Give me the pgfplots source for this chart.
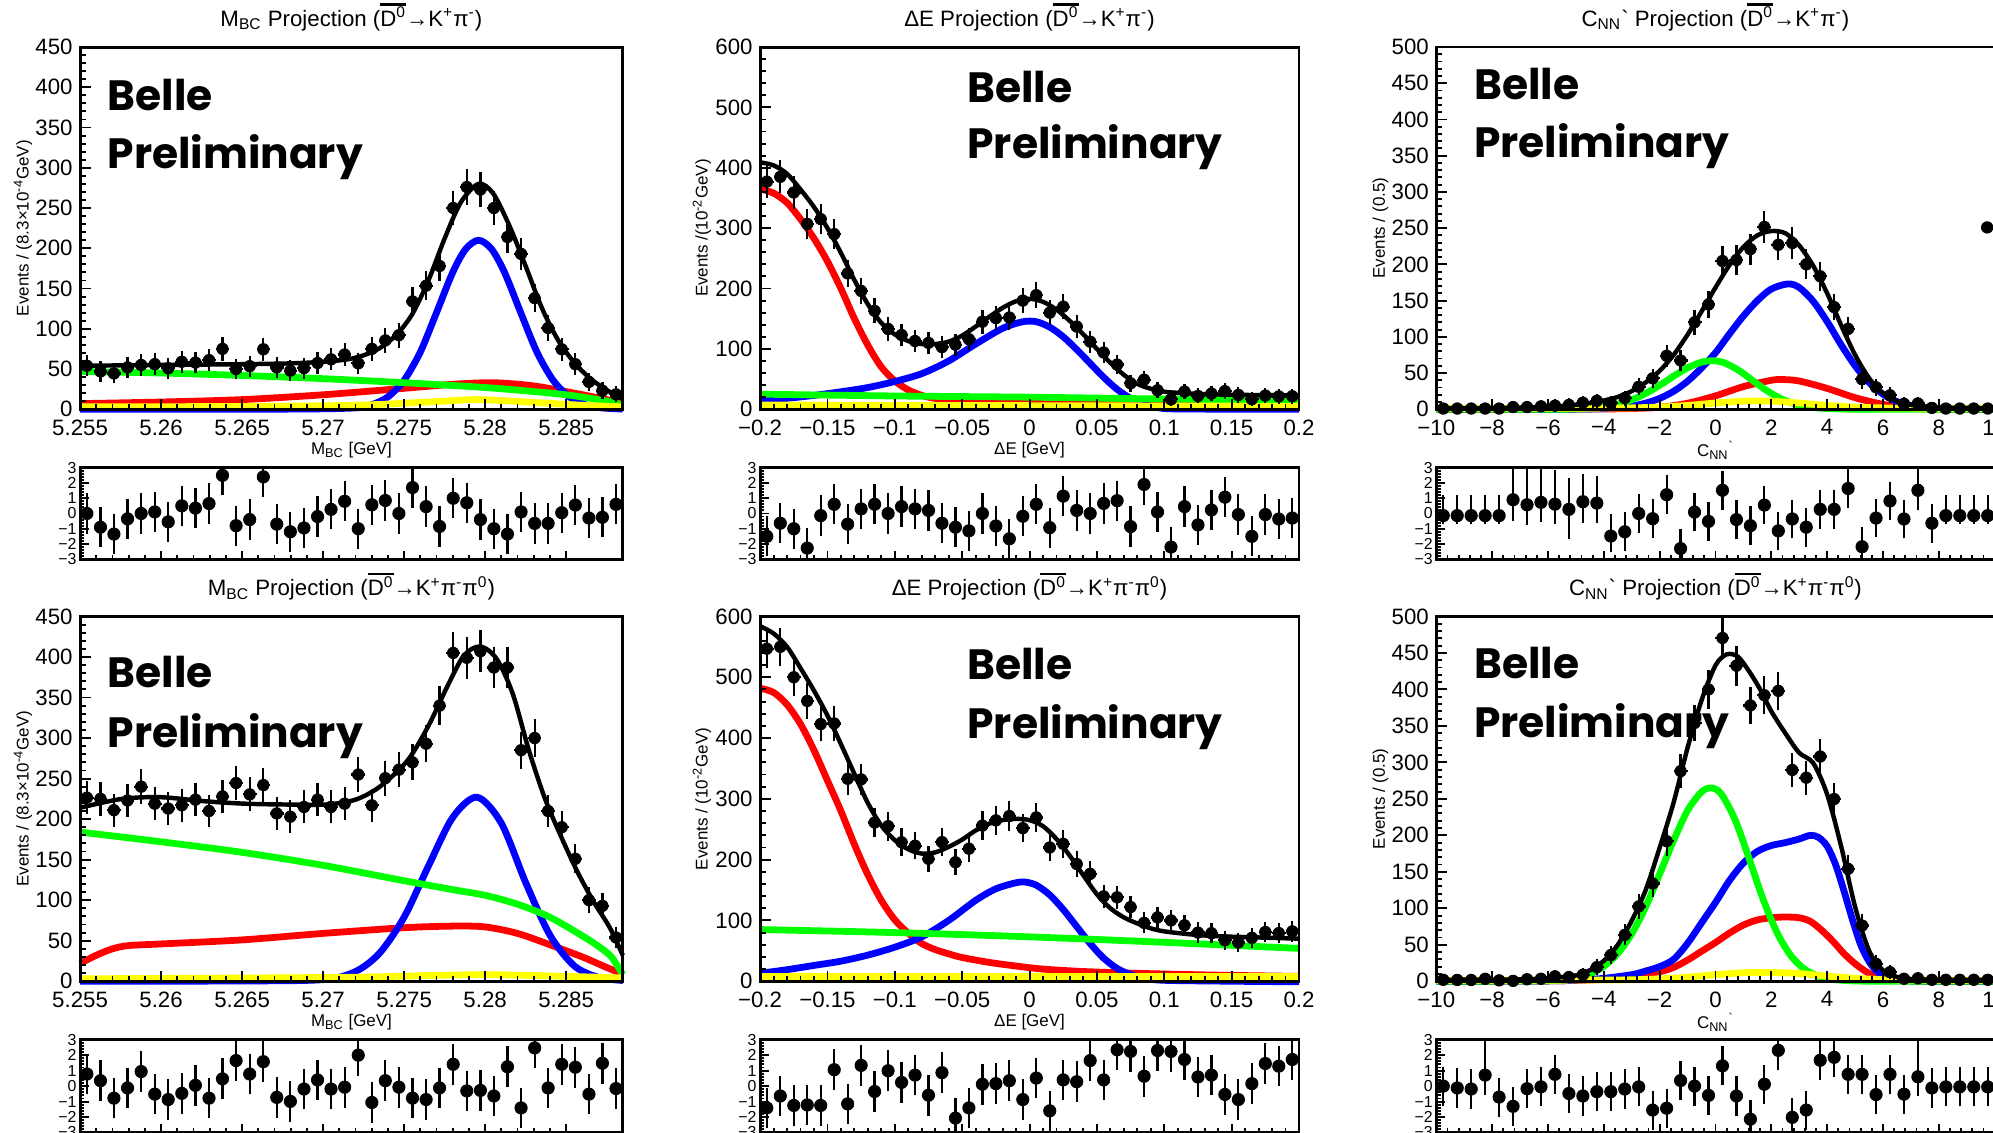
\documentclass[border=0pt]{standalone}
\usepackage{fontspec}
\setmainfont{Liberation Sans}
\newfontfamily\bellefont{Poppins}
\usepackage{pgfplots}
\pgfplotsset{compat=1.18}
\usepackage{pgfplotstable}
\definecolor{rblue}{RGB}{0,0,255}
\definecolor{rred}{RGB}{255,0,0}
\definecolor{rgreen}{RGB}{0,255,0}
\definecolor{ryellow}{RGB}{255,255,0}
\newcommand\Dbar{\leavevmode\vbox{\hrule height 1.2pt\kern0.6pt\hbox{D\textsuperscript{0}}}}
\tikzset{belle/.style={anchor=base west, inner sep=0pt, font=\bellefont\bfseries\fontsize{20}{20}\selectfont}}
\pgfplotsset{
  rootbase/.style={scale only axis, anchor=south west, axis on top,
    tick pos=left, tick align=inside,
    axis line style={line width=1.4pt},
    every tick/.style={black, line width=0.9pt},
    major tick length=5pt, minor tick length=2.6pt, minor tick num=4,
    /pgf/number format/assume math mode=true},
  mainax/.style={rootbase, clip=false,
    tick label style={font=\fontsize{10.5}{12}\selectfont},
    xticklabel style={yshift=-1.3pt},
    title style={font=\fontsize{10.5}{12}\selectfont, at={(0.5,1)}, anchor=base, yshift=3.8pt},
    xlabel style={font=\fontsize{8}{9}\selectfont, at={(axis description cs:0.5,0)}, anchor=center, yshift=-19.5pt},
    ylabel style={font=\fontsize{8}{9}\selectfont, anchor=center}},
  pullax/.style={rootbase, ymin=-3, ymax=3, ytick={-3,-2,-1,0,1,2,3},
    yticklabels={−3,−2,−1,0,1,2,3}, xticklabels={},
    yticklabel style={font=\fontsize{7.5}{7.5}\selectfont, inner sep=1.5pt},
    major tick length=4pt, minor tick length=2pt},
  fitk/.style={black, line width=2.1pt, smooth, no marks},
  compc/.style={line width=3.2pt, smooth, no marks},
  datap/.style={black, only marks, mark=*, mark size=2.7pt, error bars/.cd, y dir=both, y explicit, error bar style={line width=1.05pt}, error mark options={line width=1.05pt, mark size=2.2pt}},
  xerr/.style={black, only marks, mark=none, forget plot, error bars/.cd, x dir=both, x fixed=#1, error mark=none, error bar style={line width=1.05pt}},
  pullp/.style={black, only marks, mark=*, mark size=2.9pt, error bars/.cd, y dir=both, y fixed=1, error bar style={line width=1.05pt}, error mark options={line width=1.05pt, mark size=2.3pt}},
  pullpe/.style={black, only marks, mark=*, mark size=2.9pt, error bars/.cd, y dir=both, y explicit, error bar style={line width=1.05pt}, error mark options={line width=1.05pt, mark size=2.3pt}},
  mbcx/.style={xmin=5.255, xmax=5.2885, xtick={5.255,5.26,5.265,5.27,5.275,5.28,5.285}},
  dex/.style={xmin=-0.2, xmax=0.2, xtick={-0.2,-0.15,-0.1,-0.05,0,0.05,0.1,0.15,0.2}},
  cnnx/.style={xmin=-10, xmax=10, xtick={-10,-8,-6,-4,-2,0,2,4,6,8,10}},
}
\pgfplotstableread{
x y p
5.25542 54 0.0
5.25626 47 -0.9
5.25709 44.5 -1.35
5.25793 52 -0.35
5.25877 55 0
5.25961 56 0.1
5.26044 51 -0.55
5.26128 59 0.5
5.26212 58 0.35
5.26296 61 0.65
5.26379 75 2.5
5.26463 50 -0.8
5.26547 53.5 -0.4
5.26631 74.5 2.4
5.26714 52 -0.7
5.26798 48 -1.2
5.26882 51 -0.95
5.26966 57.5 -0.2
5.27049 62 0.27
5.27133 68 0.8
5.27217 57 -1.0
5.27301 75 0.57
5.27384 85.5 0.85
5.27468 92 0.0
5.27552 134 1.7
5.27636 153.5 0.45
5.27719 178 -0.85
5.27803 250 1.0
5.27887 276 0.7
5.27971 273 -0.4
5.28054 250 -1.0
5.28138 214 -1.35
5.28222 193 0.1
5.28306 138 -0.65
5.28389 101 -0.65
5.28473 74.5 0.05
5.28557 56 0.55
5.28641 34 -0.3
5.28724 23 -0.25
5.28808 18.5 0.6
}\dA
\pgfplotstableread{
x y p
-0.195 377 -1.5
-0.185 385 -0.64
-0.175 359 -1.0
-0.165 307 -2.27
-0.155 315 -0.14
-0.145 290 0.6
-0.135 225 -0.7
-0.125 196 0.3
-0.115 163 0.6
-0.105 133 0.0
-0.095 123 0.45
-0.085 113 0.3
-0.075 110 0.2
-0.065 103 -0.64
-0.055 107 -0.9
-0.045 116 -1.14
-0.035 145 0.0
-0.025 151 -0.82
-0.015 152 -1.66
-0.005 180 -0.18
0.005 189 0.6
0.015 160 -0.93
0.025 170 1.14
0.035 137 0.2
0.045 112 0.0
0.055 94 0.66
0.065 74 0.84
0.075 43 -0.86
0.085 49 1.9
0.095 31.5 0.1
0.105 16.4 -2.2
0.115 29.3 0.45
0.125 22 -0.75
0.135 26 0.23
0.145 30 1.07
0.155 23.7 -0.07
0.165 16.6 -1.5
0.175 22.7 -0.07
0.185 21.3 -0.36
0.195 21.6 -0.3
}\dB
\pgfplotstableread{
x y p ep em
-9.75 1 -0.14 1.0 0.25
-9.25 1 -0.14 1.0 0.25
-8.75 1 -0.14 1.0 0.25
-8.25 1 -0.14 1.0 0.25
-7.75 1 -0.14 1.0 0.25
-7.25 3 0.9 3 1.1
-6.75 3 0.57 3 1.0
-6.25 4 0.73 3 1.0
-5.75 5 0.61 1.95 1.0
-5.25 6 0.27 1.75 1.65
-4.75 9 0.77 1.5 1.05
-4.25 11.6 0.68 1.45 1.0
-3.75 8.9 -1.48 1.1 0.75
-3.25 15.5 -1.2 0.95 0.95
-2.75 31 0.0 0.95 0.95
-2.25 42.7 -0.34 0.95 0.95
-1.75 73.8 1.23 0.95 0.95
-1.25 67.3 -2.3 0.95 0.95
-0.75 120 0.09 0.95 0.95
-0.25 144.6 -0.52 0.95 0.95
0.25 204.6 1.52 0.95 0.95
0.75 206 -0.4 0.95 0.95
1.25 221 -0.8 0.95 0.95
1.75 251.6 0.55 0.95 0.95
2.25 227 -1.14 0.95 0.95
2.75 229.5 -0.36 0.95 0.95
3.25 200 -0.9 0.95 0.95
3.75 183.6 0.27 0.95 0.95
4.25 141 0.27 0.95 0.95
4.75 111 1.64 0.95 0.95
5.25 41.4 -2.18 0.95 0.95
5.75 30.3 -0.3 0.95 0.95
6.25 19.3 0.82 0.95 0.95
6.75 7.5 -0.36 0.95 0.95
7.25 8 1.52 2 1.0
7.75 1.9 -0.64 0.95 0.95
8.25 1 -0.14 1.0 0.25
8.75 1 -0.14 1.0 0.25
9.25 1 -0.14 1.0 0.25
9.75 1 -0.14 1.0 0.25
}\dC
\pgfplotstableread{
x y p
5.25542 226.5 0.78
5.25626 225 0.35
5.25709 211 -0.78
5.25793 223 -0.12
5.25877 240 0.94
5.25961 219 -0.52
5.26044 213 -0.87
5.26128 217 -0.47
5.26212 224 0.05
5.26296 210 -0.78
5.26379 228 0.47
5.26463 244.5 1.65
5.26547 230.5 0.78
5.26631 242 1.58
5.26714 207 -0.73
5.26798 203 -0.99
5.26882 215 -0.19
5.26966 224 0.4
5.27049 215 -0.19
5.27133 219 -0.07
5.27217 255 2.0
5.27301 217 -1.06
5.27384 250.5 0.35
5.27468 261 -0.07
5.27552 270 -0.78
5.27636 293 -0.87
5.27719 340 -0.12
5.27803 405 1.41
5.27887 399 -0.31
5.27971 407 -0.28
5.28054 387 -0.64
5.28138 387 1.25
5.28222 285 -1.41
5.28306 300 2.47
5.28389 210 -0.12
5.28473 190 1.41
5.28557 151 1.22
5.28641 100 -0.52
5.28724 93 1.48
5.28808 54 -0.16
}\dD
\pgfplotstableread{
x y p
-0.195 547 -1.41
-0.185 550 -0.64
-0.175 500 -1.25
-0.165 461 -1.22
-0.155 423 -1.25
-0.145 424 1.06
-0.135 333 -1.15
-0.125 332 1.34
-0.115 261 -0.35
-0.105 255 0.99
-0.095 228.6 0.24
-0.085 223 0.71
-0.075 201.4 -0.59
-0.065 228.8 0.87
-0.055 195.7 -2.07
-0.045 218 -1.41
-0.035 256 0.12
-0.025 264.6 0.16
-0.015 271.7 0.35
-0.005 251.8 -0.87
0.005 269.4 0.52
0.015 220 -1.6
0.025 226 0.4
0.035 192.8 0.28
0.045 176.6 1.65
0.055 139.6 0.4
0.065 138 2.35
0.075 122 2.24
0.085 96 0.64
0.095 105 2.3
0.105 100 2.24
0.115 92 1.72
0.125 80 0.59
0.135 79 0.71
0.145 67.4 -0.54
0.155 63.7 -0.87
0.165 71.3 0.16
0.175 81 1.46
0.185 79.2 1.29
0.195 82 1.72
}\dE
\pgfplotstableread{
x y p ep em
-9.75 2 0.0 0.95 0.95
-9.25 1.8 -0.12 0.95 0.95
-8.75 1.7 -0.19 0.95 0.95
-8.25 3.3 0.71 3 0.95
-7.75 1.2 -0.71 0.95 0.95
-7.25 0.5 -1.31 0.95 0.95
-6.75 2.7 -0.17 0.95 0.95
-6.25 3.4 -0.05 0.95 0.95
-5.75 6.7 0.76 0.95 0.95
-5.25 5.7 -0.48 0.95 0.95
-4.75 8.9 -0.64 0.95 0.95
-4.25 19.3 -0.36 0.95 0.95
-3.75 35.8 -0.36 0.95 0.95
-3.25 63.5 -0.19 0.95 0.95
-2.75 102.5 -0.05 0.95 0.95
-2.25 134 -1.55 0.95 0.95
-1.75 192 -1.43 0.95 0.95
-1.25 288 0.36 0.95 0.95
-0.75 354 0.0 0.95 0.95
-0.25 400 -0.6 0.95 0.95
0.25 470.5 1.31 0.95 0.95
0.75 432.5 -0.64 0.95 0.95
1.25 378 -2.14 0.95 0.95
1.75 392 0.12 0.95 0.95
2.25 398 2.31 0.95 0.95
2.75 289.6 -2.02 0.95 0.95
3.25 279 -1.55 0.95 0.95
3.75 308 1.67 0.95 0.95
4.25 249.7 1.86 0.95 0.95
4.75 154 0.76 0.95 0.95
5.25 76.4 0.76 0.95 0.95
5.75 24 -0.55 0.95 0.95
6.25 12.4 0.76 0.95 0.95
6.75 3.4 -0.52 0.95 0.95
7.25 4 0.6 3 0.95
7.75 2 -0.12 0.95 0.95
8.25 2 -0.05 0.95 0.95
8.75 2 -0.05 0.95 0.95
9.25 2 -0.05 0.95 0.95
9.75 2 -0.05 0.95 0.95
}\dF
\begin{document}
\begin{tikzpicture}
\useasboundingbox (0,0) rectangle (940.8pt,534.6pt);
\clip (0,0) rectangle (940.8pt,534.6pt);
% ===== Panel A =====
\begin{axis}[mainax, mbcx, at={(37.8pt,341.4pt)}, width=256.2pt, height=171pt,
  xticklabels={5.255,5.26,5.265,5.27,5.275,5.28,5.285},
  ymin=0, ymax=450, ytick={0,50,...,450},
  title={M\textsubscript{BC} Projection (\Dbar→K\textsuperscript{+}π\textsuperscript{-})},
  xlabel={M\textsubscript{BC} [GeV]},
  ylabel={Events / (8.3×10\textsuperscript{-4}GeV)},
  ylabel style={at={(axis description cs:-0.105,0.5)}}]
\node[belle] at (rel axis cs:0.05,0.825) {Belle};
\node[belle] at (rel axis cs:0.05,0.666) {Preliminary};
\addplot[compc, rred] coordinates {(5.255,7) (5.260,9) (5.265,12) (5.270,18) (5.275,26) (5.278,31) (5.2805,33) (5.283,29) (5.2855,20) (5.2875,12) (5.2885,7)};
\addplot[compc, rblue] coordinates {(5.255,0) (5.268,0.2) (5.2720,1.7) (5.2730,5.6) (5.2740,15.4) (5.2750,36) (5.2760,71) (5.2770,120) (5.2780,170) (5.2788,199) (5.2796,210) (5.2804,199) (5.2812,170) (5.2822,120) (5.2832,71) (5.2842,36) (5.2852,15.4) (5.2862,5.6) (5.2872,1.7) (5.2885,0.2)};
\addplot[compc, rgreen] coordinates {(5.255,47) (5.260,45) (5.265,42) (5.270,38) (5.275,33) (5.280,27) (5.283,22) (5.285,18) (5.287,12) (5.288,8) (5.2885,5)};
\addplot[compc, ryellow] coordinates {(5.255,3) (5.265,3.5) (5.272,5) (5.2765,9) (5.2795,12) (5.2825,9) (5.286,5) (5.2885,3)};
\addplot[fitk] coordinates {(5.255,54) (5.260,55) (5.265,56) (5.268,57) (5.270,59) (5.2715,62) (5.2725,67) (5.2735,76) (5.2745,92) (5.2755,118) (5.2765,160) (5.2775,212) (5.2785,257) (5.2796,280) (5.2805,268) (5.2815,228) (5.2825,178) (5.2835,126) (5.2845,86) (5.2855,58) (5.2865,38) (5.2875,24) (5.2885,13)};
\addplot[xerr=0.00042] table[x=x,y=y] {\dA};
\addplot[datap] table[x=x,y=y,y error expr={sqrt(\thisrow{y})}] {\dA};
\end{axis}
\begin{axis}[pullax, mbcx, at={(37.8pt,270.6pt)}, width=256.2pt, height=43.2pt]
\addplot[pullp] table[x=x,y=p] {\dA};
\end{axis}
% ===== Panel B =====
\begin{axis}[mainax, dex, at={(358.8pt,341.4pt)}, width=254.4pt, height=171pt,
  xticklabels={−0.2,−0.15,−0.1,−0.05,0,0.05,0.1,0.15,0.2},
  ymin=0, ymax=600, ytick={0,100,...,600},
  title={ΔE Projection (\Dbar→K\textsuperscript{+}π\textsuperscript{-})},
  xlabel={ΔE [GeV]},
  ylabel={Events /(10\textsuperscript{-2}GeV)},
  ylabel style={at={(axis description cs:-0.108,0.5)}}]
\node[belle] at (rel axis cs:0.384,0.848) {Belle};
\node[belle] at (rel axis cs:0.384,0.693) {Preliminary};
\addplot[compc, rred] coordinates {(-0.2,365) (-0.19,358) (-0.18,342) (-0.17,315) (-0.16,283) (-0.15,245) (-0.14,200) (-0.13,150) (-0.12,106) (-0.11,70) (-0.10,47) (-0.09,32) (-0.08,23) (-0.07,18) (-0.05,14) (-0.02,11) (0.02,9) (0.08,7) (0.2,5)};
\addplot[compc, rblue] coordinates {(-0.2,14) (-0.18,18) (-0.16,23) (-0.14,29) (-0.12,36) (-0.1,46) (-0.08,59) (-0.06,80) (-0.04,108) (-0.02,134) (-0.005,145) (0.005,145) (0.015,136) (0.025,120) (0.035,99) (0.045,76) (0.055,53) (0.065,33) (0.075,18) (0.085,8) (0.095,3) (0.11,0.5) (0.2,0)};
\addplot[compc, rgreen] coordinates {(-0.2,25) (-0.1,22) (0,20) (0.1,17) (0.2,15)};
\addplot[compc, ryellow] coordinates {(-0.2,7) (0,6) (0.2,5)};
\addplot[fitk] coordinates {(-0.2,409) (-0.19,404) (-0.18,390) (-0.17,364) (-0.16,335) (-0.15,300) (-0.14,259) (-0.13,214) (-0.12,174) (-0.11,143) (-0.10,124) (-0.09,113) (-0.08,108) (-0.07,108) (-0.06,112) (-0.05,122) (-0.04,137) (-0.03,153) (-0.02,168) (-0.01,179) (0,183) (0.01,178) (0.02,165) (0.03,146) (0.04,124) (0.05,100) (0.06,77) (0.07,57) (0.08,42) (0.09,34) (0.10,29) (0.12,26) (0.15,24) (0.2,23)};
\addplot[xerr=0.005] table[x=x,y=y] {\dB};
\addplot[datap] table[x=x,y=y,y error expr={sqrt(\thisrow{y})}] {\dB};
\end{axis}
\begin{axis}[pullax, dex, at={(358.8pt,270.6pt)}, width=254.4pt, height=43.2pt]
\addplot[pullp] table[x=x,y=p] {\dB};
\end{axis}
% ===== Panel C =====
\begin{axis}[mainax, cnnx, at={(678pt,341.4pt)}, width=263.6pt, height=171pt,
  xticklabels={−10,−8,−6,−4,−2,0,2,4,6,8,10},
  ymin=0, ymax=500, ytick={0,50,...,500},
  title={C\textsubscript{NN}\textasciigrave{} Projection (\Dbar→K\textsuperscript{+}π\textsuperscript{-})},
  xlabel={C\textsubscript{NN}\textsuperscript{\textasciigrave}},
  ylabel={Events / (0.5)},
  ylabel style={at={(axis description cs:-0.1,0.5)}},
  legend image code/.code={\fill[black] (0pt,0pt) circle (2.7pt);},
  legend style={at={(0.985,0.502)}, anchor=west, xshift=-2.7pt, draw=none, fill=none, inner sep=0pt, nodes={inner sep=0pt, font=\fontsize{10}{12}\selectfont}}]
\node[belle] at (rel axis cs:0.067,0.854) {Belle};
\node[belle] at (rel axis cs:0.067,0.695) {Preliminary};
\addlegendimage{black}
\addlegendentry{Data}
\addplot[compc, rred, forget plot] coordinates {(-10,0.5) (-4,0.5) (-3,1) (-2,2.8) (-1,8.3) (0,18.5) (1,31.3) (2,40) (2.4,41) (3,39) (4,28.8) (5,16) (6,6.8) (7,2.2) (8,0.5) (10,0.3)};
\addplot[compc, rblue, forget plot] coordinates {(-10,0) (-6,0) (-5,0.2) (-4,1.1) (-3,4.6) (-2.5,8.5) (-2,15) (-1.5,24.8) (-1,38.7) (-0.5,57) (0,78) (0.5,104) (1,128.7) (1.5,150) (2,166) (2.6,173) (3,168) (3.5,149) (4,121) (4.5,89) (5,60) (5.5,37) (6,20.7) (6.5,10.6) (7,5) (8,0.8) (9,0.1) (10,0)};
\addplot[compc, rgreen, forget plot] coordinates {(-10,0) (-6,0) (-5,0.6) (-4,3.4) (-3.5,7) (-3,13) (-2.5,21.8) (-2,33) (-1.5,45.7) (-1,57.2) (-0.5,65) (-0.1,67) (0.3,64.3) (0.8,54.5) (1.3,40.6) (1.8,26.7) (2.3,15.4) (2.8,7.8) (3.3,3.5) (3.8,1.4) (4.8,0.1) (6,0) (10,0)};
\addplot[compc, ryellow, forget plot] coordinates {(-10,1.5) (-6,1.5) (-4,1.6) (-3,1.9) (-2,3) (-1,5.3) (0,8.6) (1,11.1) (1.5,11.5) (2,11.1) (3,8.6) (4,5.3) (5,3) (6,1.9) (7,1.6) (8,1.5) (10,1.5)};
\addplot[fitk, forget plot] coordinates {(-10,1.5) (-8,1.6) (-7,2.2) (-6,3.2) (-5,6) (-4.5,8.5) (-4,12) (-3.5,17) (-3,25) (-2.5,37) (-2,53) (-1.5,75) (-1,103) (-0.5,135) (0,168) (0.5,199) (1,224) (1.5,240) (2,246) (2.5,243) (3,226) (3.5,198) (4,160) (4.5,116) (5,75) (5.5,43) (6,22) (6.5,11) (7,6) (7.5,3.5) (8,2.5) (9,1.8) (10,1.5)};
\addplot[xerr=0.25] table[x=x,y=y] {\dC};
\addplot[forget plot, datap] table[x=x,y=y,y error expr={sqrt(\thisrow{y})}] {\dC};
\end{axis}
\begin{axis}[pullax, cnnx, at={(678pt,270.6pt)}, width=263.6pt, height=43.2pt]
\addplot[pullpe] table[x=x,y=p,y error plus=ep,y error minus=em] {\dC};
\end{axis}
% ===== Panel D =====
\begin{axis}[mainax, mbcx, at={(37.8pt,71.4pt)}, width=256.2pt, height=172.2pt,
  xticklabels={5.255,5.26,5.265,5.27,5.275,5.28,5.285},
  ymin=0, ymax=450, ytick={0,50,...,450},
  title={M\textsubscript{BC} Projection (\Dbar→K\textsuperscript{+}π\textsuperscript{-}π\textsuperscript{0})},
  xlabel={M\textsubscript{BC} [GeV]},
  ylabel={Events / (8.3×10\textsuperscript{-4}GeV)},
  ylabel style={at={(axis description cs:-0.105,0.5)}}]
\node[belle] at (rel axis cs:0.05,0.805) {Belle};
\node[belle] at (rel axis cs:0.05,0.642) {Preliminary};
\addplot[compc, rred] coordinates {(5.255,22) (5.256,32) (5.257,40) (5.258,44) (5.260,46) (5.265,51) (5.270,59) (5.275,66) (5.278,68) (5.280,67) (5.282,59) (5.284,45) (5.286,30) (5.2875,17) (5.2885,9)};
\addplot[compc, rblue] coordinates {(5.255,0) (5.265,0.3) (5.2700,2) (5.2720,12) (5.2735,35) (5.2750,79) (5.2765,142) (5.2780,202) (5.2795,227) (5.2810,195) (5.2825,122) (5.2840,57) (5.2855,19) (5.2870,4.8) (5.2885,0.9)};
\addplot[compc, rgreen] coordinates {(5.255,184) (5.260,172) (5.265,159) (5.270,143) (5.275,124) (5.278,113) (5.280,106) (5.282,95) (5.284,79) (5.286,56) (5.287,43) (5.2878,30) (5.2885,8)};
\addplot[compc, ryellow] coordinates {(5.255,3) (5.265,4) (5.272,5) (5.2795,8) (5.285,6) (5.2885,4)};
\addplot[fitk] coordinates {(5.255,214) (5.2576,225) (5.260,227) (5.2627,222) (5.2652,219) (5.2677,218) (5.2702,218) (5.2720,224) (5.2735,240) (5.2752,272) (5.2765,315) (5.2777,365) (5.2787,402) (5.2797,413) (5.2807,398) (5.2817,355) (5.2827,285) (5.2837,225) (5.2847,178) (5.2857,135) (5.2867,98) (5.2877,66) (5.2885,32)};
\addplot[xerr=0.00042] table[x=x,y=y] {\dD};
\addplot[datap] table[x=x,y=y,y error expr={sqrt(\thisrow{y})}] {\dD};
\end{axis}
\begin{axis}[pullax, mbcx, at={(37.8pt,0pt)}, width=256.2pt, height=43.8pt]
\addplot[pullp] table[x=x,y=p] {\dD};
\end{axis}
% ===== Panel E =====
\begin{axis}[mainax, dex, at={(358.8pt,71.4pt)}, width=254.4pt, height=172.2pt,
  xticklabels={−0.2,−0.15,−0.1,−0.05,0,0.05,0.1,0.15,0.2},
  ymin=0, ymax=600, ytick={0,100,...,600},
  title={ΔE Projection (\Dbar→K\textsuperscript{+}π\textsuperscript{-}π\textsuperscript{0})},
  xlabel={ΔE [GeV]},
  ylabel={Events / (10\textsuperscript{-2}GeV)},
  ylabel style={at={(axis description cs:-0.108,0.5)}}]
\node[belle] at (rel axis cs:0.384,0.828) {Belle};
\node[belle] at (rel axis cs:0.384,0.666) {Preliminary};
\addplot[compc, rred] coordinates {(-0.2,482) (-0.19,475) (-0.18,455) (-0.17,423) (-0.16,380) (-0.15,330) (-0.14,280) (-0.13,225) (-0.12,175) (-0.11,133) (-0.10,101) (-0.09,79) (-0.08,62) (-0.07,52) (-0.06,45) (-0.05,39) (-0.03,31) (-0.01,25) (0.01,20) (0.04,16) (0.08,13) (0.14,10) (0.2,8)};
\addplot[compc, rblue] coordinates {(-0.2,13) (-0.18,19) (-0.16,26) (-0.14,33) (-0.12,43) (-0.1,56) (-0.08,73) (-0.06,100) (-0.04,133) (-0.025,152) (-0.01,162) (-0.003,163) (0.005,158) (0.015,142) (0.025,118) (0.035,90) (0.045,62) (0.055,38) (0.065,21) (0.075,11) (0.085,5) (0.1,1.5) (0.15,0) (0.2,-1)};
\addplot[compc, rgreen] coordinates {(-0.2,85) (-0.1,80) (0,73) (0.1,64) (0.2,54)};
\addplot[compc, ryellow] coordinates {(-0.2,8) (0,8) (0.2,8)};
\addplot[fitk] coordinates {(-0.2,584) (-0.19,572) (-0.18,550) (-0.17,515) (-0.16,478) (-0.15,437) (-0.14,390) (-0.13,341) (-0.12,293) (-0.11,256) (-0.10,232) (-0.09,217) (-0.08,210) (-0.07,212) (-0.06,221) (-0.05,233) (-0.04,248) (-0.03,259) (-0.02,265) (-0.01,267) (0,265) (0.01,255) (0.02,234) (0.03,206) (0.04,174) (0.05,143) (0.06,120) (0.07,105) (0.08,95) (0.09,87) (0.10,82) (0.12,77) (0.14,74) (0.17,72) (0.2,70)};
\addplot[xerr=0.005] table[x=x,y=y] {\dE};
\addplot[datap] table[x=x,y=y,y error expr={sqrt(\thisrow{y})}] {\dE};
\end{axis}
\begin{axis}[pullax, dex, at={(358.8pt,0pt)}, width=254.4pt, height=43.8pt]
\addplot[pullp] table[x=x,y=p] {\dE};
\end{axis}
% ===== Panel F =====
\begin{axis}[mainax, cnnx, at={(678pt,71.4pt)}, width=263.6pt, height=172.2pt,
  xticklabels={−10,−8,−6,−4,−2,0,2,4,6,8,10},
  ymin=0, ymax=500, ytick={0,50,...,500},
  title={C\textsubscript{NN}\textasciigrave{} Projection (\Dbar→K\textsuperscript{+}π\textsuperscript{-}π\textsuperscript{0})},
  xlabel={C\textsubscript{NN}\textsuperscript{\textasciigrave}},
  ylabel={Events / (0.5)},
  ylabel style={at={(axis description cs:-0.1,0.5)}}]
\node[belle] at (rel axis cs:0.067,0.831) {Belle};
\node[belle] at (rel axis cs:0.067,0.669) {Preliminary};
\addplot[compc, rred] coordinates {(-10,0) (-6,0.5) (-4,2.5) (-3,7) (-2,13) (-1.5,19) (-1,29) (-0.5,41) (0,53) (0.5,66) (1,77) (1.5,84) (2,87) (2.5,88) (3,87) (3.4,82) (3.8,70) (4.2,55) (4.6,38) (5,24) (5.4,13) (5.8,6) (6.2,2.5) (7,0.5) (8,0) (10,0)};
\addplot[compc, rblue] coordinates {(-10,0) (-6,0.5) (-5,1.5) (-4,4) (-3,9) (-2.5,14) (-2,20) (-1.5,30) (-1,52) (-0.5,80) (0,108) (0.5,138) (1,162) (1.5,178) (2,186) (2.5,190) (3,195) (3.4,200) (3.7,197) (4,185) (4.3,160) (4.6,124) (4.9,85) (5.2,50) (5.5,27) (5.8,13) (6.2,5) (6.6,1.5) (7,0.5) (8,0) (10,0)};
\addplot[compc, rgreen] coordinates {(-10,0) (-6,0.7) (-5,4.5) (-4.5,10) (-4,20.4) (-3.5,38) (-3,65) (-2.5,102) (-2,147) (-1.5,193) (-1,234) (-0.5,259.5) (-0.15,265) (0.2,257) (0.7,221.5) (1.2,168.6) (1.7,113) (2.2,67) (2.7,35) (3.2,16.3) (3.7,6.7) (4.2,2.4) (5,0.4) (6,0) (10,0)};
\addplot[compc, ryellow] coordinates {(-10,1.5) (-6,1.5) (-4,1.7) (-3,2) (-2,3.2) (-1,5.6) (0,9) (1,11.6) (2,12) (3,10.5) (4,7) (5,4) (6,2.2) (7,1.7) (8,1.5) (10,1.5)};
\addplot[fitk] coordinates {(-10,2) (-7,2.5) (-6,4) (-5,8) (-4.5,15) (-4,28) (-3.5,50) (-3,83) (-2.5,125) (-2,183) (-1.5,245) (-1,320) (-0.5,385) (0,433) (0.4,448) (0.8,445) (1.2,425) (1.6,400) (2,370) (2.5,340) (3,313) (3.5,299) (4,256) (4.5,185) (5,102) (5.5,42) (6,15) (6.5,6) (7,3) (8,2) (10,2)};
\addplot[xerr=0.25] table[x=x,y=y] {\dF};
\addplot[datap] table[x=x,y=y,y error expr={sqrt(\thisrow{y})}] {\dF};
\end{axis}
\begin{axis}[pullax, cnnx, at={(678pt,0pt)}, width=263.6pt, height=43.8pt]
\addplot[pullpe] table[x=x,y=p,y error plus=ep,y error minus=em] {\dF};
\end{axis}
\end{tikzpicture}
\end{document}
